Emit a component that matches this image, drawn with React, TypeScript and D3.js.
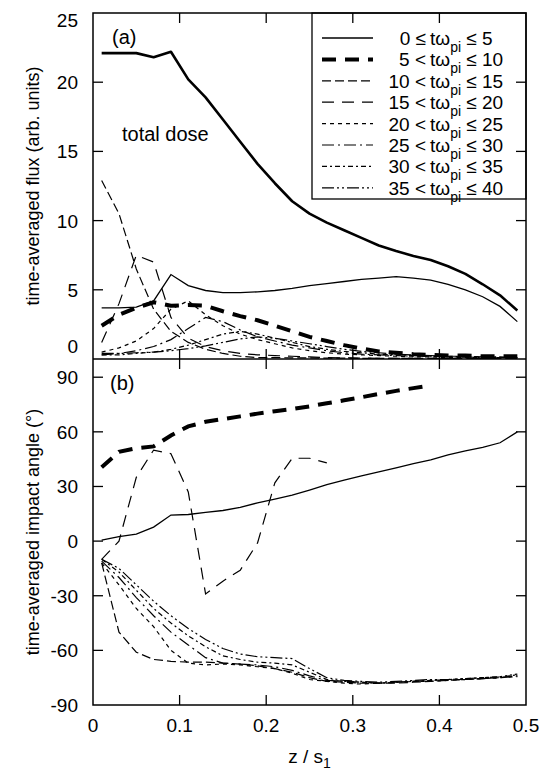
import React from 'react';
import * as d3 from 'd3';

// z / s1 sample positions
const zPos = [0.01, 0.03, 0.05, 0.07, 0.09, 0.11, 0.13, 0.15, 0.17, 0.19, 0.21, 0.23, 0.25,
  0.27, 0.29, 0.31, 0.33, 0.35, 0.37, 0.39, 0.41, 0.43, 0.45, 0.47, 0.49];

// (a) time-averaged flux
const fluxTotal = [22.1, 22.1, 22.1, 21.8, 22.2, 20.2, 18.9, 17.3, 15.7, 14.1, 12.7, 11.4, 10.5,
  9.85, 9.3, 8.75, 8.2, 7.8, 7.45, 7.15, 6.7, 6.15, 5.4, 4.6, 3.5];
const flux0to5 = [3.7, 3.7, 3.75, 4.2, 6.1, 5.3, 4.95, 4.8, 4.8, 4.85, 4.95, 5.1, 5.3,
  5.45, 5.6, 5.75, 5.85, 5.95, 5.85, 5.7, 5.4, 5.0, 4.5, 3.8, 2.7];
const flux5to10 = [2.4, 3.2, 3.7, 4.1, 3.85, 3.9, 3.85, 3.45, 3.1, 2.8, 2.4, 2.0, 1.6,
  1.3, 1.0, 0.75, 0.55, 0.45, 0.35, 0.3, 0.25, 0.25, 0.2, 0.2, 0.2];
const flux10to15 = [12.9, 10.5, 6.5, 3.6, 2.0, 1.2, 0.7, 0.4, 0.2, 0.1, 0.1, 0.08, 0.08,
  0.06, 0.06, 0.05, 0.05, 0.05, 0.05, 0.05, 0.05, 0.05, 0.05, 0.05, 0.05];
const flux15to20 = [1.2, 4.0, 7.5, 7.0, 3.0, 1.5, 0.9, 0.6, 0.4, 0.3, 0.25, 0.2, 0.15,
  0.1, 0.08, 0.06, 0.05, 0.05, 0.05, 0.05, 0.05, 0.05, 0.05, 0.05, 0.05];
const flux20to25 = [0.5, 0.8, 1.3, 2.2, 3.6, 4.2, 3.2, 2.4, 1.8, 1.4, 1.1, 0.8, 0.6,
  0.45, 0.35, 0.3, 0.25, 0.2, 0.15, 0.15, 0.1, 0.1, 0.1, 0.1, 0.1];
const flux25to30 = [0.3, 0.4, 0.6, 0.9, 1.4, 2.2, 3.0, 2.7, 2.1, 1.6, 1.3, 1.0, 0.8,
  0.6, 0.45, 0.35, 0.3, 0.25, 0.2, 0.2, 0.15, 0.15, 0.1, 0.1, 0.1];
const flux30to35 = [0.3, 0.3, 0.4, 0.5, 0.7, 1.0, 1.4, 1.8, 2.0, 1.8, 1.5, 1.2, 0.9,
  0.7, 0.55, 0.45, 0.35, 0.3, 0.25, 0.2, 0.2, 0.15, 0.15, 0.1, 0.1];
const flux35to40 = [0.4, 0.4, 0.45, 0.5, 0.6, 0.75, 0.95, 1.2, 1.45, 1.6, 1.5, 1.3, 1.1,
  0.9, 0.7, 0.55, 0.45, 0.35, 0.3, 0.25, 0.2, 0.2, 0.15, 0.15, 0.1];

// (b) time-averaged impact angle (deg)
const angle0to5 = [0.5, 2.5, 3.8, 7.7, 14.3, 14.6, 15.8, 16.8, 18.5, 21, 23, 25.2, 28,
  31, 33.5, 35.8, 38, 40.2, 42.5, 44.6, 47.3, 49.5, 51.5, 54, 60];
const angle5to10 = [40.5, 49, 51, 52, 58, 63, 65.5, 67, 68.5, 70, 71.3, 72.5, 74,
  75.7, 77.3, 79, 80.8, 82.5, 84, 85.5];
const angle10to15 = [-12, -50, -61, -65, -66, -66.5, -66.5, -67, -67.5, -68.5, -70, -72, -75,
  -77, -77.5, -78, -78, -78, -77.5, -77, -76.5, -76, -75.5, -75, -74];
const angle15to20 = [-10, 0, 35, 50, 48, 27, -29, -22, -16, -1, 32, 45.5, 45.5, 43];
const angle20to25 = [-12, -24, -37, -47, -60, -67, -68, -67.5, -68, -69, -70, -72.5, -76,
  -77, -78, -78.5, -78, -77.5, -77, -77, -76.5, -76, -75.5, -75, -74.5];
const angle25to30 = [-11, -20, -31, -41, -50, -57, -64, -67, -67.5, -68, -69, -71, -74,
  -76.5, -77, -77.5, -78, -77.5, -77, -76.5, -76, -76, -75.5, -75, -74];
const angle30to35 = [-10, -17, -27, -37, -45, -52, -58, -63, -65, -66.5, -67, -68, -72,
  -76, -77, -77.5, -78, -77.5, -77, -76.5, -76, -75.5, -75, -74.5, -73.5];
const angle35to40 = [-10, -15, -24, -33, -41, -48, -54, -59, -62, -63.5, -64, -64.5, -70,
  -75, -76.5, -77, -77.5, -77, -76.5, -76, -76, -75.5, -75, -74.5, -73];

const rangeLo = ['0 \u2264', '5 <', '10 <', '15 <', '20 <', '25 <', '30 <', '35 <'];
const rangeHi = ['\u2264 5', '\u2264 10', '\u2264 15', '\u2264 20', '\u2264 25', '\u2264 30', '\u2264 35', '\u2264 40'];

const xTicks = [0, 0.1, 0.2, 0.3, 0.4, 0.5];
const fluxTicks = [0, 5, 10, 15, 20, 25];
const angleTicks = [-90, -60, -30, 0, 30, 60, 90];

const styles = [
  { dash: '', w: 1.3 },
  { dash: '14,9', w: 4 },
  { dash: '9,4', w: 1.2 },
  { dash: '12,8', w: 1.2 },
  { dash: '4,4', w: 1.2 },
  { dash: '12,4,2,4', w: 1.2 },
  { dash: '5,3,2,3', w: 1.2 },
  { dash: '12,3,2,3,2,3', w: 1.2 },
];
const fluxSeries = [flux0to5, flux5to10, flux10to15, flux15to20, flux20to25, flux25to30, flux30to35, flux35to40];
const angleSeries = [angle0to5, angle5to10, angle10to15, angle15to20, angle20to25, angle25to30, angle30to35, angle35to40];

const FONT = '"Liberation Sans", Arial, Helvetica, sans-serif';

export default function App() {
  const W = 540, H = 775;
  const x = d3.scaleLinear().domain([0, 0.5]).range([93, 526]);
  const yA = d3.scaleLinear().domain([0, 25]).range([359, 13]);
  const yB = d3.scaleLinear().domain([-90, 100]).range([705, 359]);
  const left = x(0), right = x(0.5);

  const lineA = (vals: number[]) =>
    d3.line<number>().x((_, i) => x(zPos[i])).y(d => yA(d))(vals) || '';
  const lineB = (vals: number[]) =>
    d3.line<number>().x((_, i) => x(zPos[i])).y(d => yB(d))(vals) || '';

  const tickLen = 10;
  const legX0 = 312, legY0 = 13;
  const rowY = (i: number) => 38 + i * 21.4;

  return (
    <svg width={W} height={H} style={{ position: 'absolute', left: 0, top: 0, background: '#fff' }}
      fontFamily={FONT}>
      <defs>
        <clipPath id="clipA"><rect x={left} y={yA(25)} width={right - left} height={yA(0) - yA(25)} /></clipPath>
        <clipPath id="clipB"><rect x={left} y={yB(100)} width={right - left} height={yB(-90) - yB(100)} /></clipPath>
      </defs>

      {/* panel (a) curves */}
      <g clipPath="url(#clipA)" fill="none" stroke="#000">
        {fluxSeries.map((s, i) => (
          <path key={i} d={lineA(s)} strokeWidth={styles[i].w} strokeDasharray={styles[i].dash} />
        ))}
        <path d={lineA(fluxTotal)} strokeWidth={2.6} strokeLinejoin="round" />
      </g>

      {/* panel (b) curves */}
      <g clipPath="url(#clipB)" fill="none" stroke="#000">
        {angleSeries.map((s, i) => (
          <path key={i} d={lineB(s)} strokeWidth={styles[i].w} strokeDasharray={styles[i].dash} />
        ))}
      </g>

      {/* legend */}
      <rect x={legX0} y={legY0} width={right - legX0} height={199 - legY0} fill="#fff" stroke="#000" strokeWidth={1.3} />
      {styles.map((st, i) => (
        <g key={i}>
          <line x1={322} x2={373} y1={rowY(i)} y2={rowY(i)} stroke="#000"
            strokeWidth={st.w} strokeDasharray={st.dash} />
          <text x={426} y={rowY(i) + 7} fontSize={19} textAnchor="end">{rangeLo[i]}</text>
          <text x={430} y={rowY(i) + 7} fontSize={19}>
            {'t\u03c9'}<tspan fontSize={14} dy={7}>pi</tspan><tspan dy={-7}>{' ' + rangeHi[i]}</tspan>
          </text>
        </g>
      ))}

      {/* frame */}
      <g stroke="#000" fill="none">
        <rect x={left} y={yA(25)} width={right - left} height={yB(-90) - yA(25)} strokeWidth={1.5} />
        <line x1={left} x2={right} y1={yA(0)} y2={yA(0)} strokeWidth={1.5} />
        {xTicks.slice(1, -1).map(t => (
          <g key={t} strokeWidth={1.3}>
            <line x1={x(t)} x2={x(t)} y1={yA(25)} y2={yA(25) + tickLen} />
            <line x1={x(t)} x2={x(t)} y1={yA(0) - tickLen} y2={yA(0) + tickLen} />
            <line x1={x(t)} x2={x(t)} y1={yB(-90)} y2={yB(-90) - tickLen} />
          </g>
        ))}
        {fluxTicks.slice(1, -1).map(t => (
          <g key={t} strokeWidth={1.3}>
            <line x1={left} x2={left + tickLen} y1={yA(t)} y2={yA(t)} />
            <line x1={right} x2={right - tickLen} y1={yA(t)} y2={yA(t)} />
          </g>
        ))}
        {angleTicks.slice(1).map(t => (
          <g key={t} strokeWidth={1.3}>
            <line x1={left} x2={left + tickLen} y1={yB(t)} y2={yB(t)} />
            <line x1={right} x2={right - tickLen} y1={yB(t)} y2={yB(t)} />
          </g>
        ))}
      </g>

      {/* tick labels */}
      <g fontSize={19} fill="#000">
        {fluxTicks.map(t => {
          let yy = yA(t) + 7;
          if (t === 0) yy = yA(0) - 6;
          if (t === 25) yy = yA(25) + 14;
          return <text key={t} x={78} y={yy} textAnchor="end">{t}</text>;
        })}
        {angleTicks.map(t => (
          <text key={t} x={78} y={yB(t) + 7} textAnchor="end">{t}</text>
        ))}
        {xTicks.map(t => (
          <text key={t} x={x(t)} y={732} textAnchor="middle">{t === 0 ? '0' : t.toFixed(1)}</text>
        ))}
      </g>

      {/* annotations */}
      <text x={112} y={44} fontSize={20}>(a)</text>
      <text x={110} y={390} fontSize={20}>(b)</text>
      <text x={122} y={141} fontSize={20}>total dose</text>

      {/* axis titles */}
      <text transform={`translate(39,${(yA(0) + yA(25)) / 2}) rotate(-90)`} textAnchor="middle" fontSize={18}>
        time-averaged flux (arb. units)
      </text>
      <text transform={`translate(39,${(yB(-90) + yB(100)) / 2}) rotate(-90)`} textAnchor="middle" fontSize={18}>
        time-averaged impact angle (°)
      </text>
      <text x={(left + right) / 2} y={763} textAnchor="middle" fontSize={19}>
        z / s<tspan fontSize={14} dy={5}>1</tspan>
      </text>
    </svg>
  );
}
